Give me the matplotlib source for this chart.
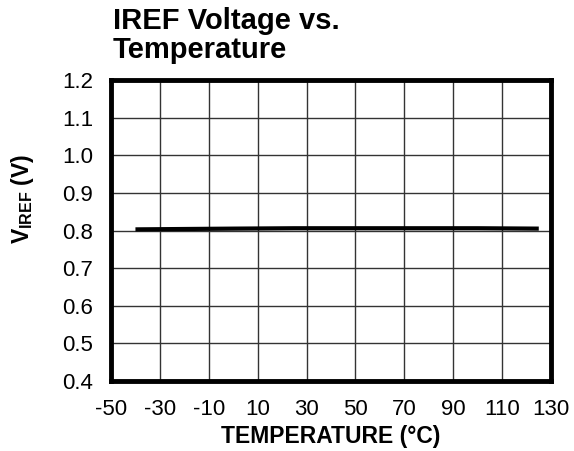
# IREF voltage vs temperature plot

import numpy as np
import matplotlib
matplotlib.use('Agg')
import matplotlib.pyplot as plt

plt.rcParams['font.family'] = ['Liberation Sans', 'DejaVu Sans']
plt.rcParams['axes.unicode_minus'] = False
plt.rcParams['mathtext.fontset'] = 'custom'
plt.rcParams['mathtext.rm'] = 'Liberation Sans:bold'
plt.rcParams['mathtext.bf'] = 'Liberation Sans:bold'
plt.rcParams['mathtext.it'] = 'Liberation Sans:bold'

temperature = [-40, -20, 0, 25, 50, 75, 100, 125]
v_iref = [0.803, 0.804, 0.805, 0.806, 0.806, 0.806, 0.806, 0.805]

x_ticks = list(range(-50, 131, 20))
y_ticks = [0.4, 0.5, 0.6, 0.7, 0.8, 0.9, 1.0, 1.1, 1.2]

fig = plt.figure(figsize=(5.74, 4.51), dpi=100)
ax = fig.add_axes([111 / 574, 1 - 381 / 451, 440 / 574, 301 / 451])

ax.plot(temperature, v_iref, color='black', linewidth=3, solid_capstyle='butt')

ax.set_xlim(-50, 130)
ax.set_ylim(0.4, 1.2)
ax.set_xticks(x_ticks)
ax.set_yticks(y_ticks)
ax.set_yticklabels(['{:.1f}'.format(v) for v in y_ticks])
ax.tick_params(length=0, pad=13, labelsize=16)
ax.grid(True, color='#333333', linewidth=1)
ax.set_axisbelow(True)
for s in ax.spines.values():
    s.set_linewidth(3.5)
    s.set_color('black')

fig.text(113 / 574, 1 - 7 / 451, 'IREF Voltage vs.\nTemperature', fontsize=21,
         fontweight='bold', ha='left', va='top', linespacing=1.05)
fig.text(331 / 574, 1 - 425 / 451, 'TEMPERATURE (°C)', fontsize=16.5,
         fontweight='bold', ha='center', va='top')
fig.text(22 / 574, 1 - 199 / 451, r'$\mathregular{V_{IREF}}$ (V)', fontsize=16.5,
         fontweight='bold', ha='center', va='center', rotation=90)

plt.savefig('out.png', dpi=100)
